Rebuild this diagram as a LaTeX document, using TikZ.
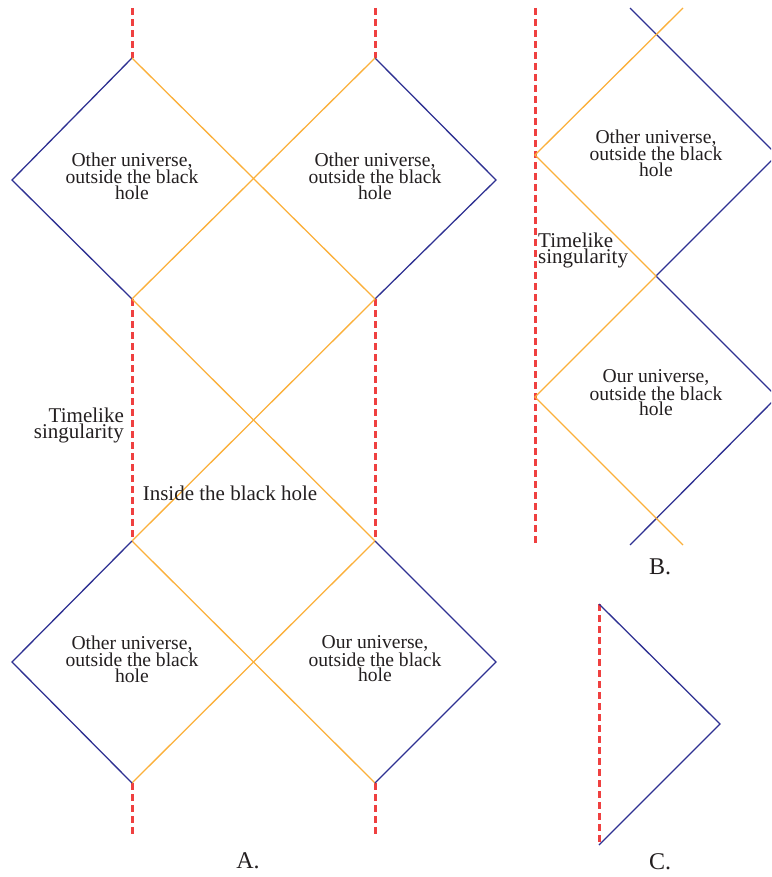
\documentclass[tikz,border=0pt]{standalone}
\usepackage{fontspec}
\setmainfont{Liberation Serif}
\definecolor{hblue}{HTML}{2E3192}
\definecolor{horange}{HTML}{FBB03B}
\definecolor{hred}{HTML}{EF4040}
\definecolor{htext}{HTML}{231F20}
\begin{document}
\begin{tikzpicture}[x=1pt,y=-1pt,
  blueline/.style={hblue,line width=1.3pt},
  orangeline/.style={horange,line width=1.3pt},
  singline/.style={hred,line width=3pt,dash pattern=on 7pt off 4pt},
  lbl/.style={text=htext,font=\fontsize{19.6}{15.5}\selectfont,align=center,inner sep=0pt},
  tlbl/.style={lbl,font=\fontsize{21}{16}\selectfont},
  lblr/.style={tlbl,align=right},
  lbll/.style={tlbl,align=left},
  partlbl/.style={lbl,font=\fontsize{24}{24}\selectfont}]
\useasboundingbox (0,0) rectangle (771,877);
\clip (0,0) rectangle (771,877);
% ---- A ----
\coordinate (a1) at (132,58);
\coordinate (a2) at (375,58);
\coordinate (aL) at (12,180);
\coordinate (aM) at (253.5,180);
\coordinate (aR) at (496,180);
\coordinate (b1) at (132,299);
\coordinate (b2) at (375,299);
\coordinate (c1) at (132,541);
\coordinate (c2) at (375,541);
\coordinate (dL) at (12,662);
\coordinate (dM) at (253.5,662);
\coordinate (dR) at (496,662);
\coordinate (e1) at (132,783);
\coordinate (e2) at (375,783);
\coordinate (t1) at (132,8);
\coordinate (t2) at (375,8);
\coordinate (f1) at (132,835);
\coordinate (f2) at (375,835);
\draw[singline] (t1) -- (a1);
\draw[singline] (t2) -- (a2);
\draw[singline] (b1) -- (c1);
\draw[singline] (b2) -- (c2);
\draw[singline] (e1) -- (f1);
\draw[singline] (e2) -- (f2);
\draw[blueline] (b1) -- (aL) -- (a1);
\draw[blueline] (a2) -- (aR) -- (b2);
\draw[orangeline] (a1) -- (b2);
\draw[orangeline] (a2) -- (b1);
\draw[orangeline] (b1) -- (c2);
\draw[orangeline] (b2) -- (c1);
\draw[orangeline] (c1) -- (e2);
\draw[orangeline] (c2) -- (e1);
\draw[blueline] (c1) -- (dL) -- (e1);
\draw[blueline] (c2) -- (dR) -- (e2);
\node[lbl] (ta) at (132,176) {Other universe,\\outside the black\\hole};
\node[lbl] (tb) at (375,176) {Other universe,\\outside the black\\hole};
\node[lbl] (tc) at (132,659) {Other universe,\\outside the black\\hole};
\node[lbl] (td) at (375,659) {Our universe,\\outside the black\\hole};
\node[lblr,anchor=east] (tsA) at (124,425) {Timelike\\singularity};
\node[tlbl] (ins) at (230,493) {Inside the black hole};
\node[partlbl] (labA) at (248,861) {A.};
% ---- B ----
\coordinate (Bt) at (535,8);
\coordinate (Bb) at (535,543);
\coordinate (Bbl) at (630,8);
\coordinate (Bor) at (683,8);
\coordinate (Bx1) at (656,34);
\coordinate (BL1) at (535,155);
\coordinate (BR1) at (777,155);
\coordinate (Bx2) at (656,276);
\coordinate (BL2) at (535,397);
\coordinate (BR2) at (777,397);
\coordinate (Bx3) at (656,518);
\coordinate (Bbl2) at (630,545);
\coordinate (Bor2) at (683,545);
\draw[singline] (Bt) -- (Bb);
\draw[blueline] (Bbl) -- (BR1) -- (Bx2) -- (BR2) -- (Bbl2);
\draw[orangeline] (Bor) -- (BL1) -- (Bx2) -- (BL2) -- (Bor2);
\node[lbl] (tB1) at (656,153) {Other universe,\\outside the black\\hole};
\node[lbl] (tB2) at (656,393) {Our universe,\\outside the black\\hole};
\node[lbll,anchor=west] (tsB) at (538,250) {Timelike\\singularity};
\node[partlbl] (labB) at (660,567) {B.};
% ---- C ----
\coordinate (Ct) at (599,604);
\coordinate (CR) at (720,724);
\coordinate (Cb) at (599,845);
\draw[singline] (Ct) -- (Cb);
\draw[blueline] (Ct) -- (CR) -- (Cb);
\node[partlbl] (labC) at (660,862) {C.};
\end{tikzpicture}
\end{document}
